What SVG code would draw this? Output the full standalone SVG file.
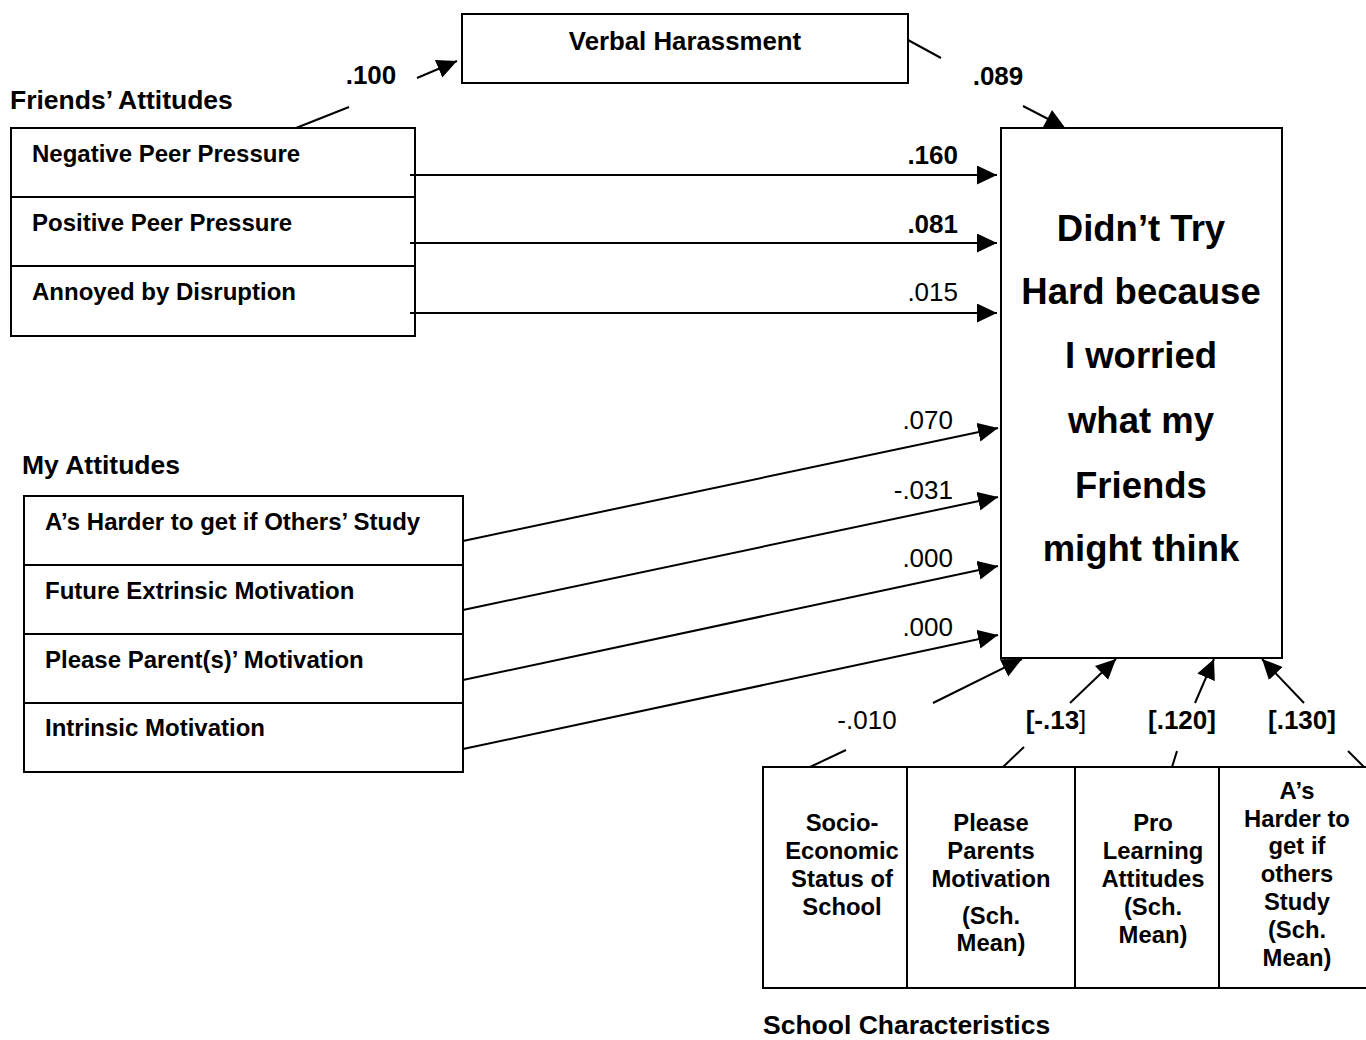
<svg xmlns="http://www.w3.org/2000/svg" width="1366" height="1040" viewBox="0 0 1366 1040">
<defs>
<style>
text{font-family:"Liberation Sans",Arial,Helvetica,sans-serif;fill:#000}
.b{font-weight:bold}
.sec{font-size:26.5px;font-weight:bold}
.item{font-size:24px;font-weight:bold}
.vh{font-size:25.8px;font-weight:bold}
.lab{font-size:26px}
.main{font-size:36.5px;font-weight:bold;text-anchor:middle}
.sc{font-size:23.8px;font-weight:bold;text-anchor:middle}
.box{fill:#fff;stroke:#000;stroke-width:2}
.ln{fill:none;stroke:#000;stroke-width:2}
.ar{fill:none;stroke:#000;stroke-width:2;marker-end:url(#ah)}
</style>
<marker id="ah" markerUnits="userSpaceOnUse" markerWidth="22" markerHeight="20" refX="20" refY="9.5" orient="auto">
<path d="M0,0 L20,9.5 L0,19 z" fill="#000"/>
</marker>
</defs>
<rect width="1366" height="1040" fill="#fff"/>

<g id="verbal">
<rect class="box" x="462" y="14" width="446" height="69"/>
<text class="vh" x="685" y="50" text-anchor="middle">Verbal Harassment</text>
</g>

<g id="friends">
<text class="sec" x="10" y="109">Friends’ Attitudes</text>
<rect class="box" x="11" y="128" width="404" height="208"/>
<line class="ln" x1="11" y1="197" x2="415" y2="197"/>
<line class="ln" x1="11" y1="266" x2="415" y2="266"/>
<text class="item" x="32" y="162">Negative Peer Pressure</text>
<text class="item" x="32" y="231">Positive Peer Pressure</text>
<text class="item" x="32" y="300">Annoyed by Disruption</text>
</g>

<g id="my">
<text class="sec" x="22" y="474">My Attitudes</text>
<rect class="box" x="24" y="496" width="439" height="276"/>
<line class="ln" x1="24" y1="565" x2="463" y2="565"/>
<line class="ln" x1="24" y1="634" x2="463" y2="634"/>
<line class="ln" x1="24" y1="703" x2="463" y2="703"/>
<text class="item" x="45" y="530">A’s Harder to get if Others’ Study</text>
<text class="item" x="45" y="599">Future Extrinsic Motivation</text>
<text class="item" x="45" y="668">Please Parent(s)’ Motivation</text>
<text class="item" x="45" y="736">Intrinsic Motivation</text>
</g>

<g id="outcome">
<rect class="box" x="1001" y="128" width="281" height="530"/>
<text class="main" x="1141" y="241">Didn’t Try</text>
<text class="main" x="1141" y="304">Hard because</text>
<text class="main" x="1141" y="368">I worried</text>
<text class="main" x="1141" y="433">what my</text>
<text class="main" x="1141" y="498">Friends</text>
<text class="main" x="1141" y="561">might think</text>
</g>

<g id="school">
<rect class="box" x="763" y="767" width="610" height="221"/>
<line class="ln" x1="907" y1="767" x2="907" y2="988"/>
<line class="ln" x1="1075" y1="767" x2="1075" y2="988"/>
<line class="ln" x1="1219" y1="767" x2="1219" y2="988"/>
<text class="sc" x="842" y="831">Socio-</text>
<text class="sc" x="842" y="859">Economic</text>
<text class="sc" x="842" y="887">Status of</text>
<text class="sc" x="842" y="915">School</text>
<text class="sc" x="991" y="831">Please</text>
<text class="sc" x="991" y="859">Parents</text>
<text class="sc" x="991" y="887">Motivation</text>
<text class="sc" x="991" y="924">(Sch.</text>
<text class="sc" x="991" y="951">Mean)</text>
<text class="sc" x="1153" y="831">Pro</text>
<text class="sc" x="1153" y="859">Learning</text>
<text class="sc" x="1153" y="887">Attitudes</text>
<text class="sc" x="1153" y="915">(Sch.</text>
<text class="sc" x="1153" y="943">Mean)</text>
<text class="sc" x="1297" y="799">A’s</text>
<text class="sc" x="1297" y="827">Harder to</text>
<text class="sc" x="1297" y="854">get if</text>
<text class="sc" x="1297" y="882">others</text>
<text class="sc" x="1297" y="910">Study</text>
<text class="sc" x="1297" y="938">(Sch.</text>
<text class="sc" x="1297" y="966">Mean)</text>
<text class="sec" x="763" y="1034">School Characteristics</text>
</g>

<g id="connectors">
<line class="ln" x1="296" y1="128" x2="349" y2="107"/>
<line class="ar" x1="417" y1="78" x2="457" y2="61"/>
<line class="ln" x1="908" y1="40" x2="941" y2="58"/>
<line class="ln" x1="1023" y1="106" x2="1050" y2="120"/>
<polygon points="1052,110 1042,129 1066,129" fill="#000"/>
<line class="ar" x1="410" y1="175" x2="997" y2="175"/>
<line class="ar" x1="410" y1="243" x2="997" y2="243"/>
<line class="ar" x1="410" y1="313" x2="997" y2="313"/>
<line class="ar" x1="463" y1="541" x2="998" y2="428"/>
<line class="ar" x1="463" y1="610" x2="998" y2="497"/>
<line class="ar" x1="463" y1="680" x2="998" y2="566"/>
<line class="ar" x1="463" y1="749" x2="998" y2="635"/>
<line class="ln" x1="810" y1="767" x2="846" y2="750"/>
<line class="ar" x1="933" y1="703" x2="1022" y2="659"/>
<line class="ln" x1="1003" y1="767" x2="1024" y2="747"/>
<line class="ar" x1="1070" y1="703" x2="1116" y2="659"/>
<line class="ln" x1="1172" y1="767" x2="1177" y2="751"/>
<line class="ar" x1="1195" y1="703" x2="1214" y2="659"/>
<line class="ln" x1="1364" y1="767" x2="1348" y2="751"/>
<line class="ar" x1="1304" y1="703" x2="1262" y2="659"/>
</g>

<g id="labels">
<text class="lab b" x="371" y="84" text-anchor="middle">.100</text>
<text class="lab b" x="998" y="85" text-anchor="middle">.089</text>
<text class="lab b" x="958" y="164" text-anchor="end">.160</text>
<text class="lab b" x="958" y="233" text-anchor="end">.081</text>
<text class="lab" x="958" y="301" text-anchor="end">.015</text>
<text class="lab" x="953" y="429" text-anchor="end">.070</text>
<text class="lab" x="953" y="499" text-anchor="end">-.031</text>
<text class="lab" x="953" y="567" text-anchor="end">.000</text>
<text class="lab" x="953" y="636" text-anchor="end">.000</text>
<text class="lab" x="867" y="729" text-anchor="middle">-.010</text>
<text class="lab" x="1056" y="729" text-anchor="middle"><tspan class="b">[-.13</tspan>]</text>
<text class="lab b" x="1182" y="729" text-anchor="middle">[.120]</text>
<text class="lab b" x="1302" y="729" text-anchor="middle">[.130]</text>
</g>
</svg>
